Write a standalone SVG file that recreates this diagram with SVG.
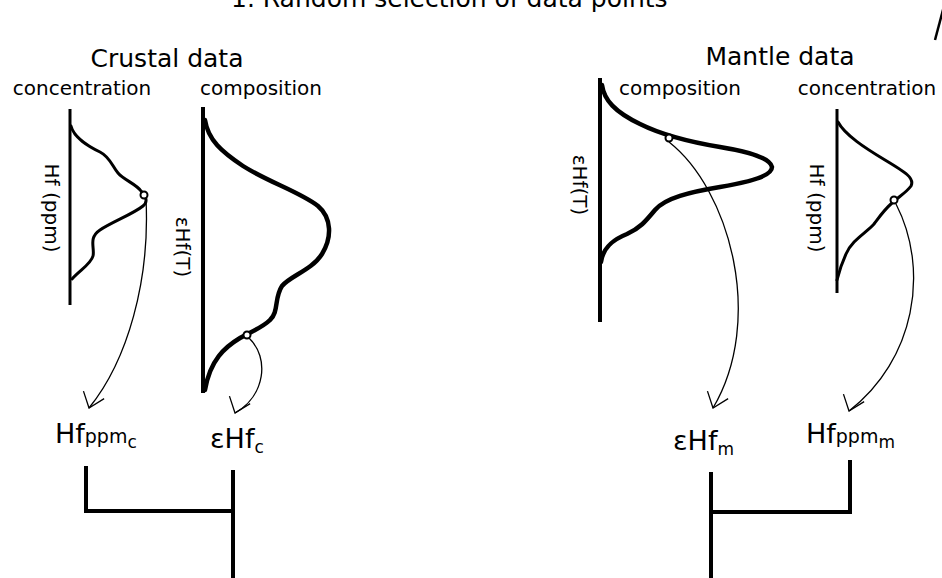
<svg xmlns="http://www.w3.org/2000/svg" width="942" height="578" viewBox="0 0 942 578">
<style>
text{font-family:"DejaVu Sans","Liberation Sans",sans-serif;fill:#000}
.big{font-size:25px}
.hdr{font-size:20px}
.ax{stroke:#000;fill:none;stroke-linecap:butt}
.dist{fill:none;stroke:#000;stroke-linecap:round;stroke-linejoin:round}
.pt{fill:#fff;stroke:#000;stroke-width:2}
.arr{fill:none;stroke:#000;stroke-width:1.3}
.br{fill:none;stroke:#000;stroke-width:4;stroke-linecap:square}
</style>
<defs>
<marker id="ah" markerUnits="userSpaceOnUse" markerWidth="40" markerHeight="40" viewBox="-20 -20 40 40" refX="0" refY="0" orient="110" overflow="visible">
<path d="M-14,-11 L0,0 L-14,11" fill="none" stroke="#000" stroke-width="1.3"/>
</marker>
</defs>
<text class="big" x="231" y="7">1. Random selection of data points</text>
<line x1="935" y1="40" x2="944" y2="6" stroke="#000" stroke-width="2.5"/>

<g id="crustal">
<text class="big" x="167" y="67" text-anchor="middle">Crustal data</text>
</g>
<g id="crustal-concentration">
<text class="hdr" x="82" y="95" text-anchor="middle">concentration</text>
<line class="ax" x1="70" y1="109" x2="70" y2="305" stroke-width="3"/>
<path class="dist" stroke-width="3" d="M71,126 C74,138 88,146 100,152 C110,157 112,166 118,173 C124,180 136,184 141,191 C145,196 149,201 143,206 C133,214 112,222 100,230 C88,238 95,248 93,256 C91,264 80,270 72,279"/>
<text class="hdr" transform="translate(45,208) rotate(90)" text-anchor="middle">Hf (ppm)</text>
</g>
<g id="crustal-composition">
<text class="hdr" x="261" y="95" text-anchor="middle">composition</text>
<line class="ax" x1="203" y1="107" x2="203" y2="393" stroke-width="4"/>
<path class="dist" stroke-width="4.5" d="M205,120 C208,140 222,152 243,166 C268,182 300,192 318,206 C332,218 332,238 322,254 C312,270 290,276 282,286 C274,298 279,312 270,320 C262,328 250,332 240,338 C225,347 210,360 205,390"/>
<text class="hdr" transform="translate(176,247) rotate(90)" text-anchor="middle">εHf(T)</text>
</g>
<g id="mantle">
<text class="big" x="780" y="65" text-anchor="middle">Mantle data</text>
</g>
<g id="mantle-composition">
<text class="hdr" x="680" y="95" text-anchor="middle">composition</text>
<line class="ax" x1="600" y1="78" x2="600" y2="322" stroke-width="4"/>
<path class="dist" stroke-width="4.5" d="M602,85 C604,100 615,112 640,124 C660,134 690,142 720,147 C750,152 770,158 772,167 C772,176 750,182 720,187 C690,192 665,198 655,210 C645,222 640,228 627,234 C612,240 603,248 601,262"/>
<text class="hdr" transform="translate(573,185) rotate(90)" text-anchor="middle">εHf(T)</text>
</g>
<g id="mantle-concentration">
<text class="hdr" x="867" y="95" text-anchor="middle">concentration</text>
<line class="ax" x1="837" y1="109" x2="837" y2="293" stroke-width="3"/>
<path class="dist" stroke-width="3" d="M838,122 C845,135 865,148 885,160 C905,172 915,178 911,186 C906,193 898,197 892,203 C884,210 880,216 874,224 C866,233 852,240 846,254 C841,265 839,272 837,280"/>
<text class="hdr" transform="translate(810,208) rotate(90)" text-anchor="middle">Hf (ppm)</text>
</g>

<g id="label-hfppm-c"><text x="55" y="443"><tspan font-size="27">Hf</tspan><tspan font-size="19">ppm</tspan><tspan font-size="17" dy="5">c</tspan></text></g>
<g id="label-ehf-c"><text x="210" y="448"><tspan font-size="27">εHf</tspan><tspan font-size="17" dy="5">c</tspan></text></g>
<g id="label-ehf-m"><text x="673" y="450"><tspan font-size="27">εHf</tspan><tspan font-size="17" dy="5">m</tspan></text></g>
<g id="label-hfppm-m"><text x="806" y="443"><tspan font-size="27">Hf</tspan><tspan font-size="19">ppm</tspan><tspan font-size="17" dy="5">m</tspan></text></g>

<g id="connectors">
<path class="arr" marker-end="url(#ah)" d="M146,199 C150,280 128,360 89,408"/>
<path class="arr" marker-end="url(#ah)" d="M249,338 C270,358 265,396 235,413"/>
<path class="arr" marker-end="url(#ah)" d="M669,142 C730,190 765,320 713,408"/>
<path class="arr" marker-end="url(#ah)" d="M896,204 C930,270 915,360 849,411"/>
<path class="br" d="M86,468 V511 H233"/>
<line class="br" x1="233" y1="472" x2="233" y2="580"/>
<path class="br" d="M850,462 V512 H711"/>
<line class="br" x1="711" y1="474" x2="711" y2="580"/>
</g>
<g id="points">
<circle class="pt" cx="144" cy="195" r="3.5"/>
<circle class="pt" cx="247" cy="335" r="3.5"/>
<circle class="pt" cx="669" cy="138" r="3.5"/>
<circle class="pt" cx="894" cy="200" r="3.5"/>
</g>
</svg>
